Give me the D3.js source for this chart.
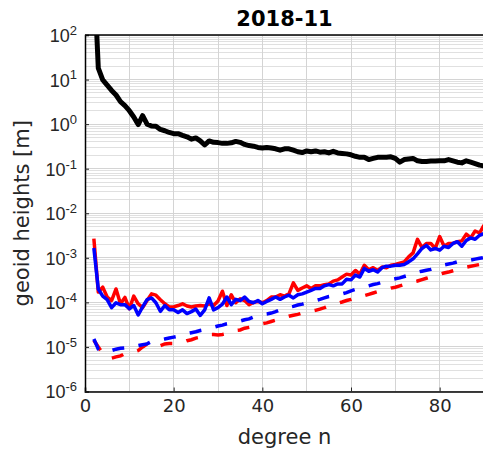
<!DOCTYPE html>
<html><head><meta charset="utf-8">
<script src="https://cdn.jsdelivr.net/npm/d3@7"></script>
<style>body{margin:0;background:#fff}svg{display:block;font-family:"DejaVu Sans",sans-serif}</style>
</head><body><svg id="c" width="483" height="450"></svg>
<script>
const degrees = d3.range(2, 91);
const signal = [3000,18,9.8,7.5,5.7,4.5,3.2,2.6,2.0,1.45,0.98,1.55,1.0,0.91,0.9,0.76,0.71,0.65,0.61,0.61,0.56,0.52,0.46,0.49,0.42,0.34,0.42,0.39,0.385,0.37,0.37,0.38,0.41,0.39,0.35,0.33,0.32,0.30,0.29,0.30,0.29,0.28,0.26,0.28,0.28,0.26,0.24,0.23,0.25,0.24,0.25,0.235,0.24,0.226,0.245,0.226,0.22,0.215,0.205,0.19,0.18,0.18,0.16,0.17,0.18,0.18,0.18,0.185,0.17,0.14,0.16,0.165,0.17,0.15,0.145,0.145,0.148,0.148,0.15,0.15,0.16,0.15,0.14,0.135,0.15,0.14,0.13,0.12,0.115];
const redSolid = [2.7e-3,1.7e-4,2.2e-4,1.32e-4,1.1e-4,2.0e-4,9.3e-5,1.29e-4,7.2e-5,1.38e-4,9.3e-5,7.6e-5,1.1e-4,1.55e-4,1.45e-4,1.15e-4,9.3e-5,7.9e-5,7.9e-5,8.5e-5,9.3e-5,8.3e-5,7.9e-5,8.3e-5,8.5e-5,8.3e-5,9.3e-5,8.5e-5,1.07e-4,1.78e-4,8.5e-5,1.48e-4,9.8e-5,1.2e-4,1.1e-4,8.9e-5,1.0e-4,1.05e-4,9.8e-5,1.1e-4,1.32e-4,1.32e-4,1.48e-4,1.38e-4,1.55e-4,2.75e-4,1.86e-4,2.1e-4,2.35e-4,2.05e-4,2.35e-4,2.35e-4,2.5e-4,2.6e-4,3.0e-4,3.2e-4,3.7e-4,4.3e-4,4.1e-4,5.2e-4,4.3e-4,6.8e-4,5.4e-4,6.0e-4,5.2e-4,6.2e-4,6.0e-4,6.8e-4,7.1e-4,7.6e-4,8.1e-4,1.05e-3,1.29e-3,2.6e-3,1.7e-3,2.1e-3,2.1e-3,1.62e-3,3.0e-3,1.82e-3,2.1e-3,2.1e-3,2.3e-3,2.4e-3,3.4e-3,2.8e-3,4.0e-3,3.6e-3,5.4e-3];
const blueSolid = [1.66e-3,2.0e-4,1.38e-4,1.15e-4,7.6e-5,9.8e-5,8.9e-5,8.9e-5,7.2e-5,8.5e-5,5.2e-5,7.9e-5,1.15e-4,1.26e-4,9.8e-5,6.3e-5,8.5e-5,6.8e-5,6.8e-5,5.9e-5,6.8e-5,5.6e-5,6.2e-5,7.1e-5,5.1e-5,6.8e-5,1.26e-4,6.8e-5,7.6e-5,9.1e-5,1.32e-4,8.9e-5,1.17e-4,1.1e-4,1.32e-4,1.05e-4,9.8e-5,1.1e-4,9.3e-5,1.05e-4,1.17e-4,1.32e-4,1.17e-4,1.32e-4,1.45e-4,1.26e-4,1.48e-4,1.55e-4,1.7e-4,1.86e-4,2.05e-4,2.05e-4,2.35e-4,2.5e-4,2.35e-4,2.6e-4,2.6e-4,3.3e-4,3.2e-4,4.1e-4,3.7e-4,5.8e-4,5.0e-4,5.4e-4,4.8e-4,6.0e-4,6.5e-4,6.5e-4,6.8e-4,6.8e-4,7.1e-4,8.1e-4,9.5e-4,1.23e-3,1.62e-3,1.9e-3,1.5e-3,1.62e-3,1.48e-3,1.82e-3,1.7e-3,2.1e-3,2.3e-3,1.82e-3,2.45e-3,2.8e-3,2.6e-3,3.2e-3,3.5e-3];
const redDashed = [1.41e-5,1.0e-5,7.1e-6,5.9e-6,5.6e-6,6.0e-6,6.3e-6,7.1e-6,7.4e-6,7.6e-6,8.3e-6,1.0e-5,1.17e-5,1.05e-5,1.0e-5,1.07e-5,1.17e-5,1.2e-5,1.2e-5,1.2e-5,1.26e-5,1.38e-5,1.45e-5,1.58e-5,1.66e-5,1.74e-5,1.91e-5,1.91e-5,1.86e-5,1.91e-5,2.0e-5,2.14e-5,2.34e-5,2.4e-5,2.63e-5,2.75e-5,2.88e-5,3.09e-5,3.31e-5,3.47e-5,3.72e-5,3.98e-5,4.27e-5,4.57e-5,4.9e-5,5.13e-5,5.37e-5,5.75e-5,6.03e-5,6.31e-5,6.61e-5,7.08e-5,7.59e-5,8.32e-5,8.91e-5,9.55e-5,1.02e-4,1.1e-4,1.17e-4,1.29e-4,1.35e-4,1.41e-4,1.51e-4,1.62e-4,1.74e-4,1.86e-4,1.95e-4,2.09e-4,2.19e-4,2.34e-4,2.51e-4,2.69e-4,2.88e-4,3.02e-4,3.24e-4,3.47e-4,3.72e-4,4.07e-4,4.27e-4,4.57e-4,4.79e-4,5.13e-4,5.5e-4,5.75e-4,6.17e-4,6.46e-4,6.76e-4,7.08e-4,7.41e-4];
const blueDashed = [1.51e-5,8.9e-6,7.6e-6,7.9e-6,8.3e-6,8.9e-6,9.3e-6,9.5e-6,9.5e-6,1.0e-5,1.07e-5,1.12e-5,1.17e-5,1.32e-5,1.41e-5,1.45e-5,1.51e-5,1.58e-5,1.66e-5,1.74e-5,1.86e-5,2.0e-5,2.09e-5,2.19e-5,2.34e-5,2.45e-5,2.57e-5,2.75e-5,2.95e-5,3.09e-5,3.31e-5,3.47e-5,3.63e-5,3.8e-5,4.07e-5,4.27e-5,4.68e-5,5.13e-5,5.37e-5,5.5e-5,5.75e-5,6.17e-5,6.76e-5,7.41e-5,7.76e-5,8.13e-5,8.71e-5,9.12e-5,9.77e-5,1.05e-4,1.1e-4,1.17e-4,1.26e-4,1.35e-4,1.41e-4,1.48e-4,1.55e-4,1.66e-4,1.82e-4,1.95e-4,2.09e-4,2.19e-4,2.34e-4,2.51e-4,2.63e-4,2.82e-4,3.02e-4,3.24e-4,3.39e-4,3.55e-4,3.8e-4,4.07e-4,4.47e-4,4.79e-4,5.01e-4,5.25e-4,5.5e-4,5.89e-4,6.46e-4,6.92e-4,7.24e-4,7.59e-4,8.13e-4,8.32e-4,8.51e-4,8.91e-4,9.33e-4,9.77e-4,1.02e-3];
const xTicks = [0,20,40,60,80];
const yTicks = [1e-6,1e-5,1e-4,1e-3,1e-2,1e-1,1e0,1e1,1e2];
const titleText = "2018-11";
const xLabel = "degree n";
const yLabel = "geoid heights [m]";

const svg = d3.select("#c");
const L = 85, R = 484, T = 35, B = 391.5;
const x = d3.scaleLinear().domain([0, 90]).range([L, R]);
const y = d3.scaleLog().domain([1e-6, 1e2]).range([B, T]);

svg.append("defs").append("clipPath").attr("id","clip")
  .append("rect").attr("x", L).attr("y", T).attr("width", R - L).attr("height", B - T);

// grid
const g = svg.append("g");
const minor = [];
for (let e = -6; e < 2; e++) for (let k = 2; k <= 9; k++) minor.push(k * Math.pow(10, e));
g.selectAll(".mn").data(minor).join("line")
  .attr("x1", L).attr("x2", R).attr("y1", d => y(d)).attr("y2", d => y(d))
  .attr("stroke", "#e0e0e0").attr("stroke-width", 1).attr("shape-rendering","crispEdges");
g.selectAll(".mj").data(yTicks).join("line")
  .attr("x1", L).attr("x2", R).attr("y1", d => y(d)).attr("y2", d => y(d))
  .attr("stroke", "#d4d4d4").attr("stroke-width", 1).attr("shape-rendering","crispEdges");
g.selectAll(".vx").data(d3.range(10, 90, 10)).join("line")
  .attr("x1", d => x(d)).attr("x2", d => x(d)).attr("y1", T).attr("y2", B)
  .attr("stroke", "#d4d4d4").attr("stroke-width", 1).attr("shape-rendering","crispEdges");

// lines
const plot = svg.append("g").attr("clip-path", "url(#clip)");
const line = vals => d3.line().x((d, i) => x(degrees[i])).y(d => y(d))(vals);
plot.append("path").attr("d", line(redDashed)).attr("fill","none").attr("stroke","#ff0000").attr("stroke-width",3.5).attr("stroke-dasharray","12,14.5");
plot.append("path").attr("d", line(blueDashed)).attr("fill","none").attr("stroke","#0000ff").attr("stroke-width",3.5).attr("stroke-dasharray","12,14.5");
plot.append("path").attr("d", line(redSolid)).attr("fill","none").attr("stroke","#ff0000").attr("stroke-width",3.5).attr("stroke-linejoin","round");
plot.append("path").attr("d", line(blueSolid)).attr("fill","none").attr("stroke","#0000ff").attr("stroke-width",3.5).attr("stroke-linejoin","round");
plot.append("path").attr("d", line(signal)).attr("fill","none").attr("stroke","#000").attr("stroke-width",5).attr("stroke-linejoin","round");

// axes
const xAxis = svg.append("g").attr("transform", `translate(0,${B})`)
  .call(d3.axisBottom(x).tickValues(xTicks).tickSize(-4).tickPadding(8).tickFormat(d3.format("d")));
xAxis.select(".domain").attr("stroke","#000").attr("stroke-width",1.5);
xAxis.selectAll(".tick line").attr("stroke","#262626");
xAxis.selectAll(".tick text").attr("font-size", 18).attr("fill","#262626").attr("font-family","DejaVu Sans");

const yAxis = svg.append("g").attr("transform", `translate(${L},0)`)
  .call(d3.axisLeft(y).tickValues(yTicks).tickSize(-4).tickPadding(8).tickFormat(""));
yAxis.select(".domain").attr("stroke","#000").attr("stroke-width",1.5);
yAxis.selectAll(".tick line").attr("stroke","#262626");
yAxis.selectAll(".tick").each(function(d) {
  const t = d3.select(this).append("text").attr("x", -8).attr("dy", "0.36em")
    .attr("text-anchor","end").attr("fill","#262626").attr("font-size",18);
  t.append("tspan").text("10");
  t.append("tspan").attr("dy","-0.55em").attr("font-size",13).text(Math.round(Math.log10(d)));
});

// top border
svg.append("line").attr("x1", L).attr("x2", R).attr("y1", T).attr("y2", T).attr("stroke","#000").attr("stroke-width",1.5);

// labels
svg.append("text").attr("x", (L + R) / 2).attr("y", 26).attr("text-anchor","middle")
  .attr("font-weight","bold").attr("font-size",21).attr("fill","#000").text(titleText);
svg.append("text").attr("x", (L + R) / 2).attr("y", 444).attr("text-anchor","middle")
  .attr("font-size",21).attr("fill","#262626").text(xLabel);
svg.append("text").attr("transform", `translate(29,${(T + B) / 2}) rotate(-90)`).attr("text-anchor","middle")
  .attr("font-size",21).attr("fill","#262626").text(yLabel);
</script></body></html>
